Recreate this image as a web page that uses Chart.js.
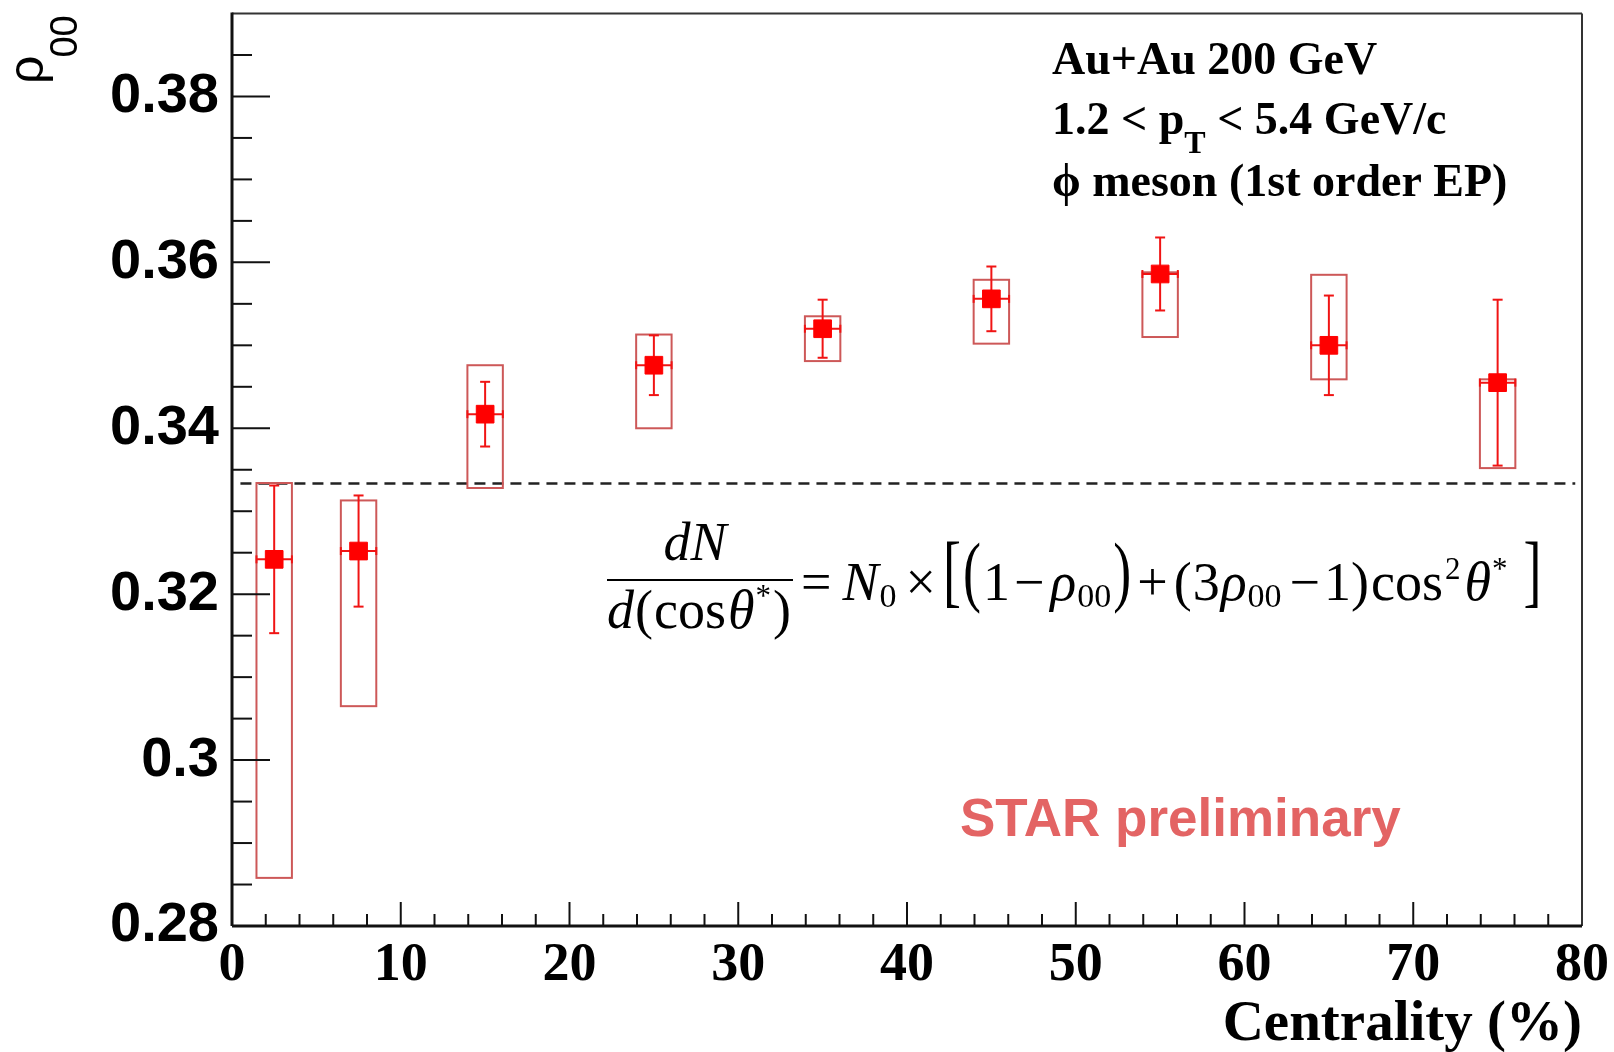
<!DOCTYPE html>
<html>
<head>
<meta charset="utf-8">
<script src="https://cdn.jsdelivr.net/npm/chart.js@4/dist/chart.umd.min.js"></script>
<style>
  html, body { margin: 0; padding: 0; background: #fff; }
  #myChart { display: block; }
</style>
</head>
<body>
<canvas id="myChart" width="1614" height="1052"></canvas>
<script>
// centrality bin centres (%) and measured rho_00
const centrality = [2.5, 7.5, 15, 25, 35, 45, 55, 65, 75];
const rho00 = [0.3242, 0.3252, 0.3417, 0.3476, 0.3520, 0.3556, 0.3586, 0.3500, 0.3455];
// statistical errors (symmetric)
const statErr = [0.0089, 0.0067, 0.0039, 0.0036, 0.0035, 0.0039, 0.0044, 0.0060, 0.0100];
// systematic boxes: upper and lower edges
const sysHigh = [0.3334, 0.3313, 0.3476, 0.3513, 0.3535, 0.3579, 0.3588, 0.3585, 0.3459];
const sysLow = [0.2858, 0.3065, 0.3328, 0.3400, 0.3481, 0.3502, 0.3510, 0.3459, 0.3352];
const boxHalfWidth = 1.05;

const xTicks = [0, 10, 20, 30, 40, 50, 60, 70, 80];
const yTicks = [0.28, 0.30, 0.32, 0.34, 0.36, 0.38];
const referenceRho = 1 / 3;
const referenceRange = [0.5, 79.6];

const SERIF = '"Liberation Serif", "Times New Roman", serif';
const SANS = '"Liberation Sans", Arial, sans-serif';

function line(ctx, x1, y1, x2, y2) {
    ctx.beginPath();
    ctx.moveTo(x1, y1);
    ctx.lineTo(x2, y2);
    ctx.stroke();
}

// draws pieces of text one after another, returns end x
// a piece with sy is stretched vertically around yc (big brackets)
function drawRun(ctx, x, y, parts) {
    parts.forEach(p => {
        ctx.font = p.f;
        if (p.sy) {
            ctx.save();
            ctx.translate(x, p.yc);
            ctx.scale(1, p.sy);
            ctx.fillText(p.t, 0, p.off);
            ctx.restore();
        } else {
            ctx.fillText(p.t, x, y + (p.dy || 0));
        }
        x += ctx.measureText(p.t).width + (p.gap || 0);
    });
    return x;
}

const errorBoxes = {
    id: 'errorBoxes',
    beforeDatasetsDraw(chart) {
        const { ctx, scales: { x, y } } = chart;
        ctx.save();
        // rho00 = 1/3 reference
        ctx.strokeStyle = '#222';
        ctx.lineWidth = 2.5;
        ctx.setLineDash([11, 7]);
        const yr = y.getPixelForValue(referenceRho);
        line(ctx, x.getPixelForValue(referenceRange[0]), yr, x.getPixelForValue(referenceRange[1]), yr);
        ctx.setLineDash([]);

        centrality.forEach((c, i) => {
            const xl = x.getPixelForValue(c - boxHalfWidth);
            const xr = x.getPixelForValue(c + boxHalfWidth);
            const xc = x.getPixelForValue(c);
            const yc = y.getPixelForValue(rho00[i]);
            // systematic box
            ctx.strokeStyle = 'rgb(205, 88, 88)';
            ctx.lineWidth = 2;
            const yt = y.getPixelForValue(sysHigh[i]);
            const yb = y.getPixelForValue(sysLow[i]);
            ctx.strokeRect(xl, yt, xr - xl, yb - yt);
            // stat error bar
            ctx.strokeStyle = '#f01414';
            ctx.lineWidth = 2;
            const y1 = y.getPixelForValue(rho00[i] + statErr[i]);
            const y2 = y.getPixelForValue(rho00[i] - statErr[i]);
            line(ctx, xc, y1, xc, y2);
            line(ctx, xc - 5, y1, xc + 5, y1);
            line(ctx, xc - 5, y2, xc + 5, y2);
            // horizontal bar
            line(ctx, xl, yc, xr, yc);
            line(ctx, xl, yc - 4, xl, yc + 4);
            line(ctx, xr, yc - 4, xr, yc + 4);
        });
        ctx.restore();
    }
};

const frameAndText = {
    id: 'frameAndText',
    afterDraw(chart) {
        const { ctx, chartArea: a, scales: { x, y } } = chart;
        ctx.save();
        // inward tick marks
        ctx.strokeStyle = '#111';
        ctx.lineWidth = 2;
        for (let k = 0; k < 22; k++) {
            const v = 0.28 + k * 0.005;
            const py = y.getPixelForValue(v);
            line(ctx, a.left, py, a.left + (k % 4 === 0 ? 38 : 20), py);
        }
        for (let v = 0; v <= 80; v += 2) {
            const px = x.getPixelForValue(v);
            line(ctx, px, a.bottom, px, a.bottom - (v % 10 === 0 ? 24 : 12));
        }
        // frame
        ctx.strokeStyle = '#333';
        ctx.lineWidth = 2;
        line(ctx, a.left, a.top, a.right, a.top);
        line(ctx, a.right, a.top, a.right, a.bottom);
        ctx.strokeStyle = '#111';
        ctx.lineWidth = 3;
        line(ctx, a.left, a.top - 1, a.left, a.bottom);
        line(ctx, a.left, a.bottom, a.right, a.bottom);

        ctx.fillStyle = '#000';
        ctx.textAlign = 'left';
        ctx.textBaseline = 'alphabetic';
        // info box
        const bold = 'bold 46px ' + SERIF;
        ctx.font = bold;
        ctx.fillText('Au+Au 200 GeV', 1052, 74);
        drawRun(ctx, 1052, 134, [
            { t: '1.2 < p', f: bold },
            { t: 'T', f: 'bold 32px ' + SERIF, dy: 19 },
            { t: ' < 5.4 GeV/c', f: bold }
        ]);
        ctx.font = bold;
        ctx.fillText('\u03d5 meson (1st order EP)', 1052, 196);

        // formula
        const fs = 54;
        const rom = fs + 'px ' + SERIF;
        const ita = 'italic ' + fs + 'px ' + SERIF;
        const sub = '34px ' + SERIF;
        const sup = '31px ' + SERIF;
        const yc = 578;
        const off = fs * 0.24;
        ctx.font = ita;
        ctx.textAlign = 'center';
        ctx.fillText('dN', 695, 560);
        ctx.textAlign = 'left';
        ctx.lineWidth = 2;
        ctx.strokeStyle = '#000';
        line(ctx, 607, 580, 793, 580);
        drawRun(ctx, 607, 628, [
            { t: 'd', f: ita, gap: 1 },
            { t: '(', f: rom, gap: 1 },
            { t: 'cos', f: rom, gap: 2 },
            { t: '\u03b8', f: ita, gap: 1 },
            { t: '*', f: sup, dy: -22, gap: 2 },
            { t: ')', f: rom }
        ]);
        drawRun(ctx, 801, 600, [
            { t: '=', f: rom, gap: 11 },
            { t: 'N', f: ita, gap: 1 },
            { t: '0', f: sub, dy: 7, gap: 9 },
            { t: '\u00d7', f: rom, gap: 7 },
            { t: '[', f: rom, sy: 1.5, yc: yc, off: off, gap: 2 },
            { t: '(', f: rom, sy: 1.45, yc: yc, off: off, gap: 2 },
            { t: '1', f: rom, gap: 4 },
            { t: '\u2212', f: rom, gap: 6 },
            { t: '\u03c1', f: ita, gap: 1 },
            { t: '00', f: sub, dy: 7, gap: 2 },
            { t: ')', f: rom, sy: 1.45, yc: yc, off: off, gap: 6 },
            { t: '+', f: rom, gap: 6 },
            { t: '(', f: rom, gap: 1 },
            { t: '3', f: rom, gap: 1 },
            { t: '\u03c1', f: ita, gap: 1 },
            { t: '00', f: sub, dy: 7, gap: 8 },
            { t: '\u2212', f: rom, gap: 4 },
            { t: '1', f: rom },
            { t: ')', f: rom, gap: 2 },
            { t: 'cos', f: rom, gap: 2 },
            { t: '2', f: sup, dy: -21, gap: 4 },
            { t: '\u03b8', f: ita, gap: 1 },
            { t: '*', f: sup, dy: -21, gap: 16 },
            { t: ']', f: rom, sy: 1.5, yc: yc, off: off }
        ]);

        // preliminary label
        ctx.fillStyle = '#e36464';
        ctx.font = 'bold 53px ' + SANS;
        ctx.fillText('STAR preliminary', 960, 836);

        // axis titles
        ctx.fillStyle = '#000';
        ctx.font = 'bold 57px ' + SERIF;
        ctx.textAlign = 'right';
        ctx.fillText('Centrality (%)', a.right, 1040);
        ctx.textAlign = 'left';
        ctx.save();
        ctx.translate(43, 84);
        ctx.rotate(-Math.PI / 2);
        drawRun(ctx, 0, 0, [
            { t: '\u03c1', f: '50px ' + SANS, gap: -2 },
            { t: '00', f: '38px ' + SANS, dy: 34 }
        ]);
        ctx.restore();
        ctx.restore();
    }
};

const data = {
    datasets: [{
        data: centrality.map((c, i) => ({ x: c, y: rho00[i] })),
        pointStyle: 'rect',
        pointRadius: 12.5,
        pointHoverRadius: 12.5,
        backgroundColor: '#ff0000',
        borderColor: '#ff0000',
        borderWidth: 1,
        showLine: false
    }]
};

const config = {
    type: 'scatter',
    data: data,
    options: {
        responsive: false,
        animation: false,
        devicePixelRatio: 1,
        layout: { padding: { left: 0, right: 32, top: 13, bottom: 0 } },
        scales: {
            x: {
                type: 'linear',
                min: 0,
                max: 80,
                grid: { display: false, drawTicks: false },
                border: { display: false },
                afterBuildTicks: s => { s.ticks = xTicks.map(v => ({ value: v })); },
                afterFit: s => { s.height = 126; s.paddingLeft = 0; s.paddingRight = 0; },
                ticks: {
                    autoSkip: false,
                    maxRotation: 0,
                    padding: 13,
                    color: '#000',
                    font: { family: SERIF, weight: 'bold', size: 54, lineHeight: 1 },
                    callback: v => String(v)
                }
            },
            y: {
                type: 'linear',
                min: 0.28,
                max: 0.39,
                grid: { display: false, drawTicks: false },
                border: { display: false },
                afterBuildTicks: s => { s.ticks = yTicks.map(v => ({ value: v })); },
                afterFit: s => { s.width = 232; s.paddingTop = 0; s.paddingBottom = 0; },
                ticks: {
                    padding: 13,
                    color: '#000',
                    font: { family: SANS, weight: 'bold', size: 56, lineHeight: 1 },
                    callback: v => String(+v.toFixed(2))
                }
            }
        },
        plugins: {
            legend: { display: false },
            tooltip: { enabled: false }
        }
    },
    plugins: [errorBoxes, frameAndText]
};

var myChart = new Chart(document.getElementById('myChart'), config);
</script>
</body>
</html>
